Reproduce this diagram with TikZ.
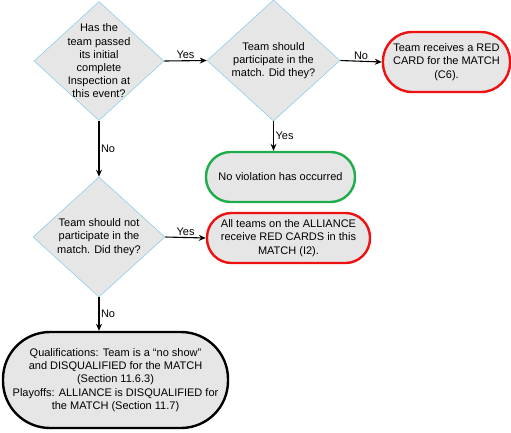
\documentclass[tikz,border=0pt]{standalone}
\usepackage{fontspec}
\setmainfont{Liberation Sans}
\usetikzlibrary{shapes.geometric,arrows.meta}
\definecolor{relleno}{HTML}{E6E6E6}
\definecolor{borde}{HTML}{8ECFEA}
\definecolor{rojo}{HTML}{EE1111}
\definecolor{verde}{HTML}{1EAD4A}
\begin{document}
\begin{tikzpicture}[x=1pt,y=-1pt,
    every node/.style={font=\fontsize{11}{13.2}\selectfont,align=center},
    decision/.style={diamond,draw=borde,fill=relleno,inner sep=0pt,line width=0.6pt},
    outcome/.style={rectangle,draw,fill=relleno,line width=2.4pt,inner sep=2pt},
    flow/.style={-{Stealth[length=7pt,width=6pt]},line width=1.1pt},
    tag/.style={font=\fontsize{11}{12}\selectfont,inner sep=1.5pt}
  ]
    \useasboundingbox (0,0) rectangle (511,432);
    \node[decision,minimum width=130pt,minimum height=119pt] (inspected) at (99,61) {};
    \node at (inspected) {Has the\\team passed\\its initial\\complete\\Inspection at\\this event?};
    \node[decision,minimum width=133pt,minimum height=121pt] (played) at (273.5,60.5) {};
    \node at (played) {Team should\\participate in the\\match. Did they?};
    \node[decision,minimum width=132pt,minimum height=120pt] (notplay) at (99,237) {};
    \node at (notplay) {Team should not\\participate in the\\match. Did they?};
    \node[outcome,draw=rojo,minimum width=127pt,minimum height=60pt,rounded corners=29pt] (redcard) at (446.5,62) {Team receives a RED\\CARD for the MATCH\\(C6).};
    \node[outcome,draw=verde,minimum width=149pt,minimum height=50pt,rounded corners=24.5pt] (novio) at (280.5,177) {No violation has occurred};
    \node[outcome,draw=rojo,minimum width=163pt,minimum height=50pt,rounded corners=24.5pt] (alliance) at (288.5,238) {All teams on the ALLIANCE\\receive RED CARDS in this\\MATCH (I2).};
    \node[outcome,draw=black,minimum width=225pt,minimum height=96pt,rounded corners=47pt] (dq) at (115.5,380) {Qualifications: Team is a “no show”\\and DISQUALIFIED for the MATCH\\(Section 11.6.3)\\Playoffs: ALLIANCE is DISQUALIFIED for\\the MATCH (Section 11.7)};
    \draw[flow] (inspected.east) -- node[tag,above] (y1) {Yes} (played.west);
    \draw[flow] (played.east) -- node[tag,above] (n1) {No} (redcard.west);
    \draw[flow] (played.south) -- node[tag,right] (y2) {Yes} (novio.north -| played.south);
    \draw[flow] (inspected.south) -- node[tag,right] (n2) {No} (notplay.north);
    \draw[flow] (notplay.east) -- node[tag,above] (y3) {Yes} (alliance.west);
    \draw[flow] (notplay.south) -- node[tag,right] (n3) {No} (dq.north -| notplay.south);
  \end{tikzpicture}
\end{document}
